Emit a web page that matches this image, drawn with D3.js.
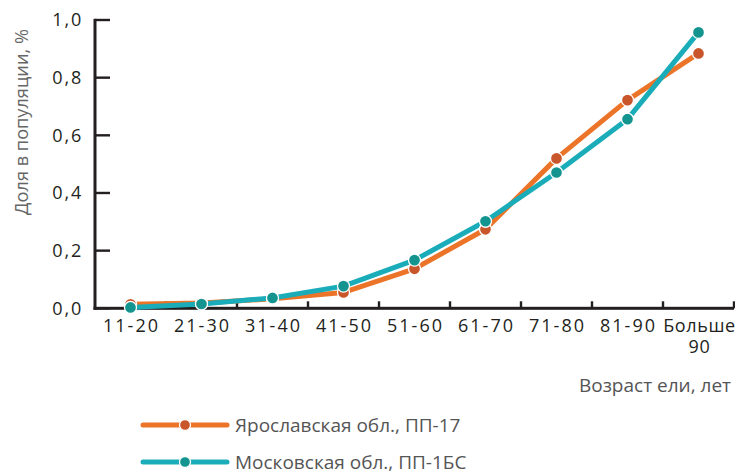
<!DOCTYPE html>
<html>
<head>
<meta charset="utf-8">
<script src="https://cdn.jsdelivr.net/npm/d3@7"></script>
<style>
    body { margin: 0; background: #fff; }
    text { font-family: "Open Sans", "Noto Sans", sans-serif; }
</style>
</head>
<body>
<div id="chart"></div>
<script>
// age classes and share in population, %
const categories = ["11-20", "21-30", "31-40", "41-50", "51-60", "61-70", "71-80", "81-90", "Больше 90"];
const yaroslavl = [0.014, 0.018, 0.033, 0.055, 0.137, 0.274, 0.52, 0.722, 0.884];
const moscow = [0.003, 0.015, 0.036, 0.077, 0.167, 0.302, 0.471, 0.656, 0.957];
const yTicks = [0, 0.2, 0.4, 0.6, 0.8, 1.0];

const series = [
    {name: "Ярославская обл., ПП-17", values: yaroslavl, line: "#ec7428", dot: "#c9552b"},
    {name: "Московская обл., ПП-1БС", values: moscow, line: "#1aadb9", dot: "#14948f"}
];

const width = 735, height = 473;
const margin = {left: 95, right: 1, top: 20, bottom: 165};
const ink = "#231f20";

let svg = d3.select("#chart")
    .append("svg")
    .attr("width", width)
    .attr("height", height)

let x = d3.scaleBand()
    .domain(categories)
    .range([margin.left, width - margin.right])

let y = d3.scaleLinear()
    .domain([0, 1])
    .range([height - margin.bottom + 0.3, margin.top])

let cx = c => x(c) + x.bandwidth() / 2

// y ticks pointing inward
let yTick = svg.append("g")
    .selectAll("g")
    .data(yTicks)
    .join("g")
    .attr("transform", d => "translate(0," + y(d) + ")")
yTick.append("rect")
    .attr("x", margin.left)
    .attr("y", -1.2)
    .attr("width", 15)
    .attr("height", 2.4)
    .attr("fill", ink)
yTick.append("text")
    .attr("x", 83)
    .attr("dy", "0.35em")
    .attr("text-anchor", "end")
    .attr("font-size", 18)
    .attr("letter-spacing", 1.8)
    .attr("fill", ink)
    .text(d => d3.format(".1f")(d).replace(".", ","))

// x ticks at band boundaries, pointing up
let bounds = categories.slice(1).map(c => x(c)).concat([x.range()[1]])
svg.append("g")
    .selectAll("rect")
    .data(bounds)
    .join("rect")
    .attr("x", d => d - 1.2)
    .attr("y", y(0) - 7)
    .attr("width", 2.4)
    .attr("height", 7)
    .attr("fill", ink)

svg.append("rect")
    .attr("x", margin.left - 1.5)
    .attr("y", y(1) - 1.2)
    .attr("width", 3)
    .attr("height", y(0) - y(1) + 2.7)
    .attr("fill", ink)
svg.append("rect")
    .attr("x", margin.left - 1.5)
    .attr("y", y(0) - 1.5)
    .attr("width", width - margin.right - margin.left + 1.5)
    .attr("height", 3)
    .attr("fill", ink)

// category labels
svg.append("g")
    .selectAll("text")
    .data(categories)
    .join("text")
    .attr("y", 332)
    .attr("text-anchor", "middle")
    .attr("font-size", 18)
    .attr("letter-spacing", d => d.length > 6 ? 0.6 : 2)
    .attr("fill", ink)
    .each(function (d) {
        let t = d3.select(this);
        d.split(" ").forEach((p, i) => {
            t.append("tspan")
                .attr("x", cx(d) + 1)
                .attr("dy", i === 0 ? 0 : 21)
                .text(p);
        });
    })

svg.append("text")
    .attr("x", 731)
    .attr("y", 392)
    .attr("text-anchor", "end")
    .attr("font-size", 19)
    .attr("fill", "#555")
    .text("Возраст ели, лет")

svg.append("text")
    .attr("transform", "translate(22,122) rotate(-90)")
    .attr("text-anchor", "middle")
    .attr("dy", "0.35em")
    .attr("font-size", 18.2)
    .attr("fill", "#666")
    .text("Доля в популяции, %")

// lines and markers
let line = d3.line()
    .x((d, i) => cx(categories[i]))
    .y(d => y(d))

series.forEach(s => {
    svg.append("path")
        .attr("d", line(s.values))
        .attr("fill", "none")
        .attr("stroke", s.line)
        .attr("stroke-width", 5)
        .attr("stroke-linejoin", "round")
})
series.forEach(s => {
    svg.append("g")
        .selectAll("circle")
        .data(s.values)
        .join("circle")
        .attr("cx", (d, i) => cx(categories[i]))
        .attr("cy", d => y(d))
        .attr("r", 6)
        .attr("fill", s.dot)
        .attr("stroke", "#fff")
        .attr("stroke-width", 1.3)
})

// legend
let legend = svg.append("g")
    .selectAll("g")
    .data(series)
    .join("g")
    .attr("transform", (d, i) => "translate(0," + (425 + i * 37) + ")")
legend.append("line")
    .attr("x1", 143).attr("x2", 227)
    .attr("stroke", d => d.line)
    .attr("stroke-width", 5)
    .attr("stroke-linecap", "round")
legend.append("circle")
    .attr("cx", 185)
    .attr("r", 5.5)
    .attr("fill", d => d.dot)
    .attr("stroke", "#fff")
    .attr("stroke-width", 1.3)
legend.append("text")
    .attr("x", 235)
    .attr("y", 6.5)
    .attr("font-size", 19)
    .attr("fill", "#555")
    .text(d => d.name)
</script>
</body>
</html>
